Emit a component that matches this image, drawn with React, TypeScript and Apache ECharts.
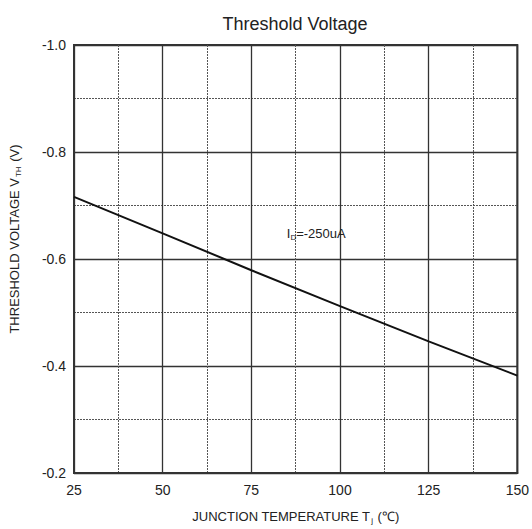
import React, { useEffect, useRef } from "react";
import * as echarts from "echarts";

const temperatures = [25, 50, 75, 100, 125, 150];
const thresholdVoltage = [-0.716, -0.648, -0.579, -0.512, -0.446, -0.382];
const annotationCoord = [85, -0.647];
const titleText = "Threshold Voltage";

const FONT = "Liberation Sans, Arial, sans-serif";

export default function App() {
  const ref = useRef<HTMLDivElement>(null);
  useEffect(() => {
    if (!ref.current) return;
    const chart = echarts.init(ref.current, null, { renderer: "svg" });
    const data = temperatures.map((t, i) => [t, thresholdVoltage[i]]);
    chart.setOption({
      animation: false,
      backgroundColor: "#ffffff",
      textStyle: { fontFamily: FONT },
      title: {
        text: titleText,
        left: 290,
        textAlign: "center",
        top: 10,
        textStyle: { fontFamily: FONT, fontSize: 18, fontWeight: "normal", color: "#222" },
      },
      grid: {
        left: 74,
        right: 13,
        top: 45,
        bottom: 53,
        show: true,
        borderColor: "#333",
        borderWidth: 2,
        backgroundColor: "transparent",
      },
      xAxis: {
        type: "value",
        min: 25,
        max: 150,
        interval: 25,
        axisLine: { show: true, onZero: false, lineStyle: { color: "#333", width: 2 } },
        axisTick: { show: false },
        axisLabel: { color: "#222", fontSize: 14, fontFamily: FONT, margin: 10 },
        splitLine: { show: true, lineStyle: { color: "#333", width: 1.3 } },
        minorTick: { show: false, splitNumber: 2 },
        minorSplitLine: { show: true, lineStyle: { color: "#555", width: 1, type: [2, 1] } },
        name: "{a|JUNCTION TEMPERATURE T}{s|j}{a| (℃)}",
        nameLocation: "middle",
        nameGap: 36,
        nameTextStyle: {
          rich: {
            a: { fontSize: 13, fontFamily: FONT, color: "#222" },
            s: { fontSize: 8, fontFamily: FONT, color: "#222", padding: [7, 1, 0, 1] },
          },
        },
      },
      yAxis: {
        type: "value",
        min: -1.0,
        max: -0.2,
        interval: 0.2,
        inverse: true,
        axisLine: { show: true, onZero: false, lineStyle: { color: "#333", width: 2 } },
        axisTick: { show: false },
        axisLabel: {
          color: "#222",
          fontSize: 14,
          fontFamily: FONT,
          margin: 8,
          formatter: (v: number) => v.toFixed(1),
        },
        splitLine: { show: true, lineStyle: { color: "#333", width: 1.3 } },
        minorTick: { show: false, splitNumber: 2 },
        minorSplitLine: { show: true, lineStyle: { color: "#555", width: 1, type: [2, 1] } },
        name: "{a|THRESHOLD VOLTAGE V}{s|TH}{a| (V)}",
        nameLocation: "middle",
        nameRotate: 90,
        nameGap: 52,
        nameTextStyle: {
          padding: [0, 0, 0, 40],
          rich: {
            a: { fontSize: 13, fontFamily: FONT, color: "#222" },
            s: { fontSize: 8, fontFamily: FONT, color: "#222", padding: [7, 1, 0, 1] },
          },
        },
      },
      series: [
        {
          type: "line",
          data,
          showSymbol: false,
          lineStyle: { color: "#111", width: 2 },
          markPoint: {
            symbol: "circle",
            symbolSize: 0,
            data: [
              {
                coord: annotationCoord,
                label: {
                  show: true,
                  position: "right",
                  distance: 0,
                  formatter: "{a|I}{s|D}{a|=-250uA}",
                  rich: {
                    a: { fontSize: 13, fontFamily: FONT, color: "#222" },
                    s: { fontSize: 8, fontFamily: FONT, color: "#222", padding: [8, 0, 0, 0] },
                  },
                },
              },
            ],
          },
        },
      ],
    });
    return () => chart.dispose();
  }, []);
  return (
    <div
      ref={ref}
      style={{ position: "fixed", left: 0, top: 0, width: 532, height: 529 }}
    />
  );
}
